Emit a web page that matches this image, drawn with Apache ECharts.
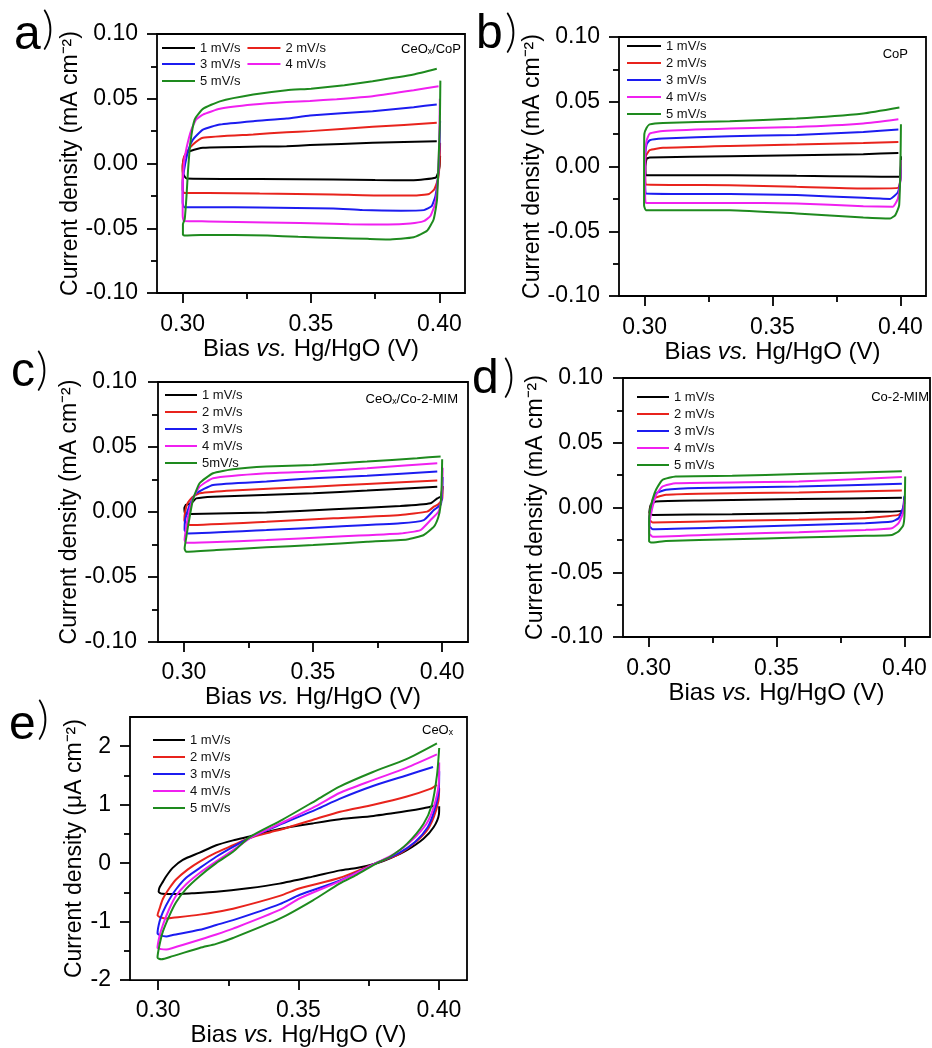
<!DOCTYPE html>
<html><head><meta charset="utf-8">
<script src="https://cdn.jsdelivr.net/npm/echarts@6/dist/echarts.min.js"></script>
<style>html,body{margin:0;padding:0;background:#fff}#c{width:932px;height:1048px}</style>
</head><body><div id="c"></div>
<script>
const RATES = ['1 mV/s','2 mV/s','3 mV/s','4 mV/s','5 mV/s'];
const RATES_C = ['1 mV/s','2 mV/s','3 mV/s','4 mV/s','5mV/s'];
const X_MAJOR = [0.30, 0.35, 0.40];
const X_MINOR = [0.325, 0.375];
const Y_MAJOR_MA = [-0.10, -0.05, 0, 0.05, 0.10];
const Y_MINOR_MA = [-0.075, -0.025, 0.025, 0.075];
const Y_MAJOR_UA = [-2, -1, 0, 1, 2];
const Y_MINOR_UA = [-1.5, -0.5, 0.5, 1.5];

// Panel a: CeOx/CoP
const a1 = [[0.4003,0.006],[0.4001,-0.002],[0.3995,-0.0072],[0.3985,-0.011],[0.39,-0.0129],[0.375,-0.0128],[0.3587,-0.0124],[0.33,-0.012],[0.3015,-0.0116],[0.3002,-0.008],[0.3,-0.002],[0.3005,0.004],[0.3015,0.008],[0.3027,0.0095],[0.3079,0.0121],[0.3405,0.0134],[0.3496,0.0142],[0.374,0.016],[0.399,0.0172]];
const a2 = [[0.4003,0.016],[0.4001,0.0],[0.3995,-0.012],[0.398,-0.02],[0.396,-0.0235],[0.39,-0.0247],[0.375,-0.0247],[0.3587,-0.0239],[0.33,-0.0232],[0.31,-0.0227],[0.3005,-0.0227],[0.3,-0.02],[0.3,-0.005],[0.3005,0.005],[0.302,0.01],[0.304,0.0147],[0.3079,0.0198],[0.3275,0.0224],[0.3405,0.0242],[0.3496,0.025],[0.374,0.0283],[0.399,0.0314]];
const a3 = [[0.4003,0.033],[0.4,0.01],[0.3995,-0.01],[0.3985,-0.025],[0.397,-0.033],[0.394,-0.036],[0.385,-0.0365],[0.37,-0.036],[0.3587,-0.0347],[0.33,-0.034],[0.31,-0.0337],[0.3005,-0.0337],[0.3,-0.03],[0.3,-0.015],[0.301,0.0],[0.3025,0.012],[0.304,0.0185],[0.3079,0.0262],[0.3145,0.0301],[0.3275,0.0327],[0.3405,0.0347],[0.3496,0.0371],[0.374,0.0404],[0.39,0.0435],[0.399,0.0456]];
const a4 = [[0.4002,0.05],[0.4,0.02],[0.3995,-0.01],[0.3985,-0.03],[0.3965,-0.0406],[0.3939,-0.0445],[0.3887,-0.0463],[0.38,-0.0471],[0.365,-0.047],[0.3587,-0.0466],[0.3327,-0.0455],[0.31,-0.0447],[0.3005,-0.0445],[0.3,-0.04],[0.3,-0.02],[0.3005,0.0],[0.3015,0.012],[0.3034,0.0262],[0.3053,0.034],[0.3079,0.0378],[0.3145,0.0422],[0.3275,0.0455],[0.3405,0.0475],[0.3496,0.0483],[0.36,0.0497],[0.374,0.052],[0.39,0.0565],[0.3997,0.0597]];
const a5 = [[0.4004,0.064],[0.4002,0.03],[0.3998,0.008],[0.3991,-0.028],[0.3978,-0.043],[0.3952,-0.052],[0.39,-0.057],[0.38,-0.0586],[0.372,-0.0582],[0.36,-0.0575],[0.345,-0.0566],[0.333,-0.0556],[0.32,-0.0553],[0.307,-0.0553],[0.3008,-0.0556],[0.3001,-0.055],[0.3001,-0.047],[0.3008,-0.043],[0.3015,-0.025],[0.3021,-0.005],[0.303,0.016],[0.3047,0.034],[0.3079,0.0422],[0.3145,0.048],[0.3275,0.0532],[0.3405,0.0566],[0.35,0.0578],[0.363,0.0605],[0.374,0.0636],[0.39,0.0687],[0.399,0.0731]];

// Panel b: CoP
const b1 = [[0.4002,0.008],[0.4001,-0.002],[0.3995,-0.008],[0.3855,-0.0077],[0.3594,-0.0072],[0.3333,-0.0067],[0.3005,-0.0067],[0.3003,0.0],[0.3008,0.006],[0.302,0.0069],[0.3333,0.0079],[0.3594,0.0087],[0.3855,0.0095],[0.3992,0.0105]];
const b2 = [[0.4002,0.0],[0.4,-0.01],[0.399,-0.0165],[0.3855,-0.017],[0.3594,-0.0157],[0.3333,-0.0144],[0.3005,-0.0139],[0.3002,-0.005],[0.3005,0.008],[0.302,0.0126],[0.3072,0.0144],[0.3333,0.0159],[0.3594,0.017],[0.3855,0.0182],[0.3992,0.019]];
const b3 = [[0.4002,0.0],[0.4,-0.01],[0.399,-0.02],[0.396,-0.025],[0.3855,-0.0242],[0.3594,-0.0221],[0.3333,-0.0213],[0.3005,-0.0208],[0.3002,-0.012],[0.3003,0.01],[0.3008,0.017],[0.302,0.0203],[0.3072,0.0216],[0.3333,0.0234],[0.3594,0.0244],[0.3855,0.0267],[0.3992,0.0285]];
const b4 = [[0.4002,0.005],[0.4,-0.01],[0.399,-0.025],[0.397,-0.031],[0.3855,-0.0306],[0.3594,-0.0286],[0.3333,-0.0281],[0.3005,-0.0281],[0.3002,-0.02],[0.3002,0.01],[0.3008,0.02],[0.302,0.0254],[0.3072,0.0274],[0.3333,0.0293],[0.3594,0.0305],[0.3855,0.0332],[0.3992,0.0365]];
const b5 = [[0.4002,0.0326],[0.4,0.0],[0.3995,-0.03],[0.398,-0.0375],[0.396,-0.0401],[0.3855,-0.0393],[0.3594,-0.0362],[0.3333,-0.0337],[0.31,-0.0337],[0.3005,-0.0337],[0.2998,-0.03],[0.2998,0.0],[0.2999,0.025],[0.3008,0.03],[0.302,0.0325],[0.3072,0.0336],[0.3333,0.0349],[0.3594,0.037],[0.3855,0.0409],[0.3996,0.0455]];

// Panel c: CeOx/Co-2-MIM
const c1 = [[0.4002,0.02],[0.3995,0.012],[0.3981,0.0105],[0.3955,0.0067],[0.3838,0.0046],[0.3579,0.0021],[0.332,-0.0003],[0.3028,-0.0015],[0.3005,-0.001],[0.3002,0.003],[0.3008,0.0055],[0.302,0.006],[0.3035,0.008],[0.3048,0.0105],[0.3113,0.0118],[0.3501,0.0144],[0.3709,0.0165],[0.3981,0.0195]];
const c2 = [[0.4002,0.02],[0.4,0.01],[0.3985,0.006],[0.3968,0.0041],[0.3942,0.0003],[0.3838,-0.0023],[0.3579,-0.0049],[0.332,-0.0075],[0.3022,-0.01],[0.3002,-0.0065],[0.3005,0.0],[0.3015,0.007],[0.3035,0.0118],[0.3061,0.0144],[0.319,0.0165],[0.3501,0.0195],[0.3709,0.0216],[0.3981,0.0242]];
const c3 = [[0.4002,0.027],[0.4,0.015],[0.3995,0.006],[0.3968,0.0015],[0.3929,-0.0062],[0.3838,-0.0087],[0.3579,-0.0113],[0.332,-0.0139],[0.3016,-0.0165],[0.3003,-0.014],[0.3005,-0.006],[0.302,0.004],[0.3035,0.0105],[0.3048,0.0144],[0.3113,0.0208],[0.332,0.0234],[0.3501,0.026],[0.3709,0.0278],[0.3981,0.0311]];
const c4 = [[0.4002,0.034],[0.4,0.02],[0.3995,0.008],[0.3985,0.0],[0.3955,-0.0062],[0.3916,-0.0139],[0.3838,-0.0165],[0.3579,-0.019],[0.332,-0.0216],[0.31,-0.0232],[0.3009,-0.0237],[0.3003,-0.0216],[0.3009,-0.012],[0.302,0.0],[0.3035,0.01],[0.3061,0.0195],[0.3113,0.026],[0.332,0.0298],[0.3501,0.0311],[0.3709,0.0337],[0.3981,0.0375]];
const c5 = [[0.4,0.0406],[0.3998,0.02],[0.3993,0.004],[0.3985,-0.004],[0.3968,-0.0113],[0.3929,-0.0177],[0.3864,-0.0211],[0.3709,-0.0229],[0.3501,-0.0254],[0.332,-0.0272],[0.3126,-0.0293],[0.3009,-0.0306],[0.3003,-0.028],[0.3009,-0.02],[0.3016,-0.0113],[0.3035,0.0093],[0.3061,0.0221],[0.3113,0.0298],[0.319,0.0329],[0.332,0.035],[0.3501,0.0362],[0.3709,0.0388],[0.3903,0.0414],[0.3994,0.0427]];

// Panel d: Co-2-MIM
const d1 = [[0.4,0.004],[0.399,-0.0026],[0.3847,-0.0034],[0.3587,-0.0044],[0.3327,-0.0052],[0.3016,-0.0057],[0.3003,-0.004],[0.3008,0.002],[0.3029,0.0046],[0.3197,0.0054],[0.3587,0.0065],[0.399,0.0075]];
const d2 = [[0.4,0.008],[0.3995,-0.002],[0.3977,-0.0057],[0.3847,-0.0083],[0.3587,-0.0095],[0.3327,-0.0103],[0.3016,-0.0116],[0.3003,-0.009],[0.3008,0.0],[0.302,0.007],[0.3068,0.0098],[0.3197,0.0106],[0.3587,0.0116],[0.399,0.0132]];
const d3 = [[0.4,0.009],[0.3995,0.0],[0.3977,-0.0083],[0.3951,-0.0108],[0.3847,-0.0121],[0.3587,-0.0137],[0.3327,-0.0152],[0.3016,-0.0168],[0.3003,-0.014],[0.3005,-0.005],[0.3015,0.004],[0.303,0.011],[0.3068,0.0137],[0.3197,0.015],[0.3587,0.0163],[0.399,0.0183]];
const d4 = [[0.4,0.006],[0.3995,-0.004],[0.3977,-0.0121],[0.3951,-0.016],[0.3847,-0.0173],[0.3587,-0.0191],[0.3327,-0.0204],[0.3016,-0.0225],[0.3003,-0.02],[0.3005,-0.01],[0.3015,0.0],[0.303,0.01],[0.3055,0.0163],[0.3106,0.0188],[0.3587,0.0201],[0.399,0.0235]];
const d5 = [[0.4003,0.024],[0.4002,0.01],[0.4,-0.007],[0.3995,-0.014],[0.3977,-0.0186],[0.3951,-0.0212],[0.3847,-0.0219],[0.3587,-0.0232],[0.3327,-0.0245],[0.3068,-0.0258],[0.3009,-0.0271],[0.3002,-0.026],[0.3002,-0.01],[0.3005,-0.003],[0.3015,0.006],[0.3029,0.0137],[0.3055,0.0214],[0.3106,0.024],[0.3327,0.0245],[0.3587,0.0258],[0.399,0.0279]];

// Panel e: CeOx (µA cm-2)
const e1 = [[0.4001,0.975],[0.4,0.836],[0.3981,0.613],[0.3945,0.418],[0.3886,0.223],[0.3826,0.084],[0.3779,0.0],[0.3707,-0.084],[0.3648,-0.123],[0.355,-0.23],[0.3432,-0.35],[0.332,-0.43],[0.3207,-0.49],[0.312,-0.515],[0.3052,-0.529],[0.3015,-0.525],[0.3002,-0.49],[0.3005,-0.42],[0.3017,-0.32],[0.3029,-0.223],[0.3052,-0.08],[0.3088,0.056],[0.3148,0.18],[0.3207,0.306],[0.3267,0.39],[0.3326,0.457],[0.3433,0.585],[0.355,0.68],[0.3648,0.752],[0.3767,0.808],[0.3886,0.891],[0.3945,0.94],[0.3993,0.992]];
const e2 = [[0.4001,1.28],[0.3998,1.058],[0.3981,0.78],[0.3957,0.557],[0.391,0.334],[0.385,0.139],[0.3776,0.0],[0.3648,-0.25],[0.3505,-0.43],[0.3433,-0.56],[0.3267,-0.78],[0.3207,-0.836],[0.3148,-0.88],[0.3052,-0.935],[0.3029,-0.947],[0.3011,-0.93],[0.2998,-0.891],[0.3005,-0.78],[0.3017,-0.613],[0.304,-0.43],[0.3064,-0.279],[0.3105,-0.11],[0.3148,0.028],[0.3207,0.18],[0.3267,0.306],[0.3326,0.43],[0.34,0.53],[0.3445,0.585],[0.3564,0.76],[0.3648,0.88],[0.3767,1.0],[0.3886,1.14],[0.3969,1.27],[0.3993,1.34]];
const e3 = [[0.4001,1.57],[0.3999,1.22],[0.3983,0.89],[0.396,0.613],[0.3915,0.36],[0.3856,0.167],[0.3776,0.0],[0.3646,-0.3],[0.3505,-0.54],[0.3433,-0.7],[0.3267,-0.975],[0.3207,-1.058],[0.3148,-1.14],[0.3052,-1.23],[0.3029,-1.253],[0.3011,-1.24],[0.2998,-1.198],[0.3005,-1.0],[0.3017,-0.836],[0.304,-0.62],[0.3064,-0.446],[0.31,-0.25],[0.3148,-0.084],[0.3207,0.11],[0.3267,0.279],[0.3338,0.46],[0.3445,0.68],[0.3564,0.92],[0.3646,1.1],[0.3765,1.32],[0.3884,1.5],[0.3979,1.645]];
const e4 = [[0.4001,1.72],[0.3999,1.34],[0.3981,0.95],[0.3955,0.67],[0.3904,0.39],[0.3844,0.167],[0.3776,0.0],[0.3646,-0.31],[0.3505,-0.6],[0.3433,-0.8],[0.3267,-1.12],[0.3207,-1.22],[0.3148,-1.31],[0.3052,-1.45],[0.3029,-1.476],[0.3011,-1.47],[0.2998,-1.448],[0.3005,-1.25],[0.3017,-1.058],[0.304,-0.78],[0.3064,-0.557],[0.31,-0.36],[0.3148,-0.167],[0.3207,0.03],[0.3267,0.223],[0.3338,0.457],[0.3445,0.7],[0.3564,0.98],[0.3646,1.2],[0.3765,1.42],[0.3884,1.63],[0.3993,1.86]];
const e5 = [[0.4001,1.97],[0.3993,1.5],[0.3975,1.0],[0.3945,0.67],[0.3886,0.33],[0.3826,0.11],[0.3779,0.0],[0.3707,-0.2],[0.3646,-0.35],[0.355,-0.64],[0.3433,-0.95],[0.3267,-1.28],[0.3207,-1.38],[0.3148,-1.45],[0.3052,-1.59],[0.3011,-1.643],[0.2998,-1.615],[0.3005,-1.4],[0.3017,-1.17],[0.304,-0.9],[0.3064,-0.669],[0.31,-0.44],[0.3148,-0.223],[0.3207,0.0],[0.3267,0.195],[0.3326,0.446],[0.3445,0.75],[0.3564,1.08],[0.3646,1.31],[0.3765,1.56],[0.3884,1.78],[0.3993,2.05]];

const FONT = '"Liberation Sans", Arial, Helvetica, sans-serif';
const COLORS = ['#000000', '#e8231c', '#1c1cf0', '#f020f0', '#1e8a1e'];

const panels = [
  {grid:{left:157, top:34, width:308, height:259}, data:[a1,a2,a3,a4,a5], names:RATES, ymin:-0.1, ymax:0.1,
   yMajor:Y_MAJOR_MA, yMinor:Y_MINOR_MA, yName:'Current density (mA cm⁻²)', yGap:70, yMargin:19, xGap:38, xMargin:20, fmt:v=>v.toFixed(2), smooth:0.15},
  {grid:{left:619, top:37, width:307, height:259}, data:[b1,b2,b3,b4,b5], names:RATES, ymin:-0.1, ymax:0.1,
   yMajor:Y_MAJOR_MA, yMinor:Y_MINOR_MA, yName:'Current density (mA cm⁻²)', yGap:68, yMargin:19, xGap:40, xMargin:20, fmt:v=>v.toFixed(2), smooth:0.15},
  {grid:{left:158, top:382, width:310, height:260}, data:[c1,c2,c3,c4,c5], names:RATES_C, ymin:-0.1, ymax:0.1,
   yMajor:Y_MAJOR_MA, yMinor:Y_MINOR_MA, yName:'Current density (mA cm⁻²)', yGap:74, yMargin:21, xGap:39, xMargin:19, fmt:v=>v.toFixed(2), smooth:0.15},
  {grid:{left:623, top:378, width:307, height:259}, data:[d1,d2,d3,d4,d5], names:RATES, ymin:-0.1, ymax:0.1,
   yMajor:Y_MAJOR_MA, yMinor:Y_MINOR_MA, yName:'Current density (mA cm⁻²)', yGap:72, yMargin:20, xGap:41, xMargin:20, fmt:v=>v.toFixed(2), smooth:0.15},
  {grid:{left:130, top:717, width:337, height:270}, data:[e1,e2,e3,e4,e5], names:RATES, ymin:-2, ymax:2.5,
   yMajor:Y_MAJOR_UA, yMinor:Y_MINOR_UA, yName:'Current density (μA cm⁻²)', yGap:42, yMargin:19, xGap:35, xMargin:19, fmt:v=>String(v), smooth:0.25}
];

const tickStyle = {color:'#000', width:1.8};
const grid = [], xAxis = [], yAxis = [], series = [];
panels.forEach((p, i) => {
  grid.push(Object.assign({show:true, borderColor:'#000', borderWidth:1.8, backgroundColor:'rgba(0,0,0,0)'}, p.grid));
  xAxis.push({type:'value', gridIndex:i, position:'bottom', min:0.29, max:0.41,
    axisLine:{show:false, onZero:false}, splitLine:{show:false},
    axisTick:{show:true, length:10, lineStyle:tickStyle, customValues:X_MAJOR},
    axisLabel:{show:true, customValues:X_MAJOR, formatter:v=>v.toFixed(2), fontSize:23, fontFamily:FONT, color:'#000', margin:p.xMargin},
    name:'{n|Bias }{i|vs.}{n| Hg/HgO (V)}', nameLocation:'middle', nameGap:p.xGap,
    nameTextStyle:{rich:{n:{fontSize:24, fontFamily:FONT, color:'#000'}, i:{fontSize:24, fontFamily:FONT, fontStyle:'italic', color:'#000'}}}});
  xAxis.push({type:'value', gridIndex:i, position:'bottom', min:0.29, max:0.41,
    axisLine:{show:false, onZero:false}, splitLine:{show:false}, axisLabel:{show:false},
    axisTick:{show:true, length:6, lineStyle:tickStyle, customValues:X_MINOR}});
  yAxis.push({type:'value', gridIndex:i, position:'left', min:p.ymin, max:p.ymax,
    axisLine:{show:false, onZero:false}, splitLine:{show:false},
    axisTick:{show:true, length:10, lineStyle:tickStyle, customValues:p.yMajor},
    axisLabel:{show:true, customValues:p.yMajor, formatter:p.fmt, fontSize:23, fontFamily:FONT, color:'#000', margin:p.yMargin},
    name:p.yName, nameLocation:'middle', nameGap:p.yGap,
    nameTextStyle:{fontSize:23, fontFamily:FONT, color:'#000'}});
  yAxis.push({type:'value', gridIndex:i, position:'left', min:p.ymin, max:p.ymax,
    axisLine:{show:false, onZero:false}, splitLine:{show:false}, axisLabel:{show:false},
    axisTick:{show:true, length:6, lineStyle:tickStyle, customValues:p.yMinor}});
  p.data.forEach((d, k) => {
    series.push({type:'line', name:p.names[k], xAxisIndex:2*i, yAxisIndex:2*i, data:d,
      showSymbol:false, symbol:'none', smooth:p.smooth, clip:true,
      lineStyle:{color:COLORS[k], width:2}, itemStyle:{color:COLORS[k]}, z:2+k});
  });
});

const legBase = {icon:'rect', itemWidth:33, itemHeight:2, selectedMode:false, padding:0,
  textStyle:{fontSize:13, fontFamily:FONT, color:'#111', lineHeight:13}};
const legend = [
  Object.assign({}, legBase, {orient:'horizontal', left:162, top:41.5, itemGap:7, data:['1 mV/s','2 mV/s']}),
  Object.assign({}, legBase, {orient:'horizontal', left:162, top:57.5, itemGap:7, data:['3 mV/s','4 mV/s']}),
  Object.assign({}, legBase, {orient:'horizontal', left:162, top:74.5, itemGap:7, data:['5 mV/s']}),
  Object.assign({}, legBase, {orient:'vertical', left:627, top:39.5, itemGap:4, itemWidth:34, data:RATES}),
  Object.assign({}, legBase, {orient:'vertical', left:165, top:388.5, itemGap:4, itemWidth:32, data:RATES_C}),
  Object.assign({}, legBase, {orient:'vertical', left:637, top:390.5, itemGap:4, itemWidth:32, data:RATES}),
  Object.assign({}, legBase, {orient:'vertical', left:153, top:733.5, itemGap:4, itemWidth:32, data:RATES})
];

function txt(x, y, text, font, align) {
  return {type:'text', x:x, y:y, silent:true,
    style:{text:text, font:font, fill:'#000', align:align || 'left', verticalAlign:'middle'}};
}
const LETTER_FONT = '48px ' + FONT;
const PAREN_FONT = '300 46px Lato, "DejaVu Sans", sans-serif';
const NOTE_FONT = '13px ' + FONT;
const graphic = [
  txt(14, 36, 'a', LETTER_FONT), txt(42, 29.5, ')', PAREN_FONT),
  txt(476, 35, 'b', LETTER_FONT), txt(505, 32, ')', PAREN_FONT),
  txt(11, 373, 'c', LETTER_FONT), txt(36, 370, ')', PAREN_FONT),
  txt(472, 380, 'd', LETTER_FONT), txt(503, 377, ')', PAREN_FONT),
  txt(9, 726, 'e', LETTER_FONT), txt(37, 719, ')', PAREN_FONT),
  txt(461, 49, 'CeOₓ/CoP', NOTE_FONT, 'right'),
  txt(908, 54, 'CoP', NOTE_FONT, 'right'),
  txt(458, 399, 'CeOₓ/Co-2-MIM', NOTE_FONT, 'right'),
  txt(929, 397, 'Co-2-MIM', NOTE_FONT, 'right'),
  txt(453, 730, 'CeOₓ', NOTE_FONT, 'right')
];

const chart = echarts.init(document.getElementById('c'), null, {renderer:'canvas'});
chart.setOption({backgroundColor:'#fff', animation:false, grid, xAxis, yAxis, series, legend, graphic});
</script></body></html>
